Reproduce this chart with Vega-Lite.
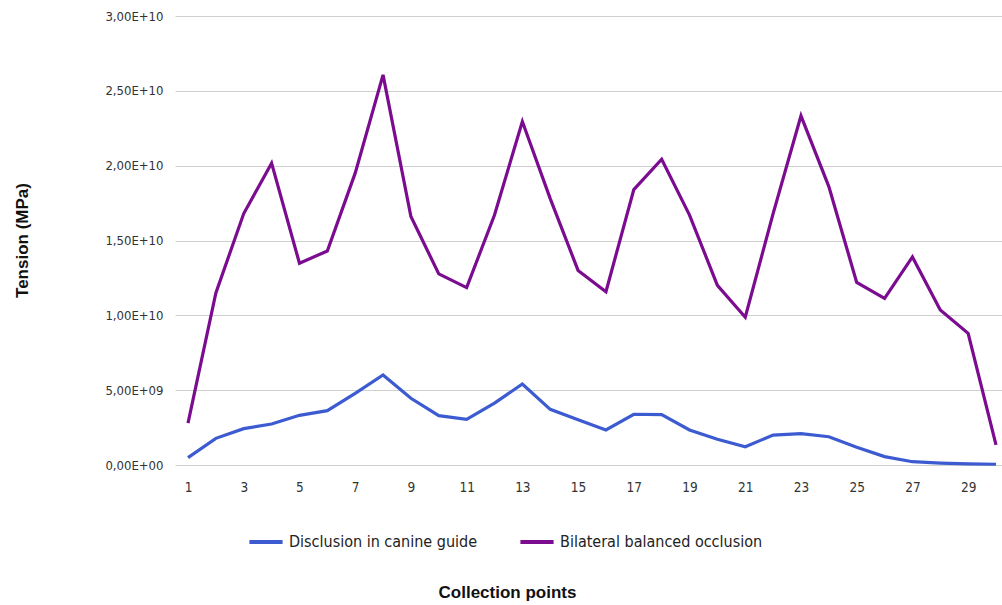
{
  "$schema": "https://vega.github.io/schema/vega-lite/v6.json",
  "autosize": {"type": "none"},
  "padding": {"left": 175, "top": 16, "right": 0, "bottom": 140},
  "width": 827,
  "height": 449,
  "background": "white",
  "config": {
    "view": {"stroke": null},
    "font": "Liberation Sans"
  },
  "datasets": {
    "d": [
      {"point": 1, "series": "Disclusion in canine guide", "value": 490000000},
      {"point": 2, "series": "Disclusion in canine guide", "value": 1780000000},
      {"point": 3, "series": "Disclusion in canine guide", "value": 2430000000},
      {"point": 4, "series": "Disclusion in canine guide", "value": 2740000000},
      {"point": 5, "series": "Disclusion in canine guide", "value": 3320000000},
      {"point": 6, "series": "Disclusion in canine guide", "value": 3630000000},
      {"point": 7, "series": "Disclusion in canine guide", "value": 4790000000},
      {"point": 8, "series": "Disclusion in canine guide", "value": 6020000000},
      {"point": 9, "series": "Disclusion in canine guide", "value": 4460000000},
      {"point": 10, "series": "Disclusion in canine guide", "value": 3300000000},
      {"point": 11, "series": "Disclusion in canine guide", "value": 3050000000},
      {"point": 12, "series": "Disclusion in canine guide", "value": 4140000000},
      {"point": 13, "series": "Disclusion in canine guide", "value": 5410000000},
      {"point": 14, "series": "Disclusion in canine guide", "value": 3720000000},
      {"point": 15, "series": "Disclusion in canine guide", "value": 3030000000},
      {"point": 16, "series": "Disclusion in canine guide", "value": 2340000000},
      {"point": 17, "series": "Disclusion in canine guide", "value": 3390000000},
      {"point": 18, "series": "Disclusion in canine guide", "value": 3360000000},
      {"point": 19, "series": "Disclusion in canine guide", "value": 2340000000},
      {"point": 20, "series": "Disclusion in canine guide", "value": 1720000000},
      {"point": 21, "series": "Disclusion in canine guide", "value": 1220000000},
      {"point": 22, "series": "Disclusion in canine guide", "value": 2000000000},
      {"point": 23, "series": "Disclusion in canine guide", "value": 2090000000},
      {"point": 24, "series": "Disclusion in canine guide", "value": 1890000000},
      {"point": 25, "series": "Disclusion in canine guide", "value": 1180000000},
      {"point": 26, "series": "Disclusion in canine guide", "value": 560000000},
      {"point": 27, "series": "Disclusion in canine guide", "value": 220000000},
      {"point": 28, "series": "Disclusion in canine guide", "value": 130000000},
      {"point": 29, "series": "Disclusion in canine guide", "value": 80000000},
      {"point": 30, "series": "Disclusion in canine guide", "value": 50000000},
      {"point": 1, "series": "Bilateral balanced occlusion", "value": 2800000000},
      {"point": 2, "series": "Bilateral balanced occlusion", "value": 11500000000},
      {"point": 3, "series": "Bilateral balanced occlusion", "value": 16800000000},
      {"point": 4, "series": "Bilateral balanced occlusion", "value": 20170000000},
      {"point": 5, "series": "Bilateral balanced occlusion", "value": 13480000000},
      {"point": 6, "series": "Bilateral balanced occlusion", "value": 14300000000},
      {"point": 7, "series": "Bilateral balanced occlusion", "value": 19500000000},
      {"point": 8, "series": "Bilateral balanced occlusion", "value": 26070000000},
      {"point": 9, "series": "Bilateral balanced occlusion", "value": 16600000000},
      {"point": 10, "series": "Bilateral balanced occlusion", "value": 12770000000},
      {"point": 11, "series": "Bilateral balanced occlusion", "value": 11850000000},
      {"point": 12, "series": "Bilateral balanced occlusion", "value": 16700000000},
      {"point": 13, "series": "Bilateral balanced occlusion", "value": 22950000000},
      {"point": 14, "series": "Bilateral balanced occlusion", "value": 17800000000},
      {"point": 15, "series": "Bilateral balanced occlusion", "value": 13000000000},
      {"point": 16, "series": "Bilateral balanced occlusion", "value": 11580000000},
      {"point": 17, "series": "Bilateral balanced occlusion", "value": 18400000000},
      {"point": 18, "series": "Bilateral balanced occlusion", "value": 20430000000},
      {"point": 19, "series": "Bilateral balanced occlusion", "value": 16700000000},
      {"point": 20, "series": "Bilateral balanced occlusion", "value": 12000000000},
      {"point": 21, "series": "Bilateral balanced occlusion", "value": 9870000000},
      {"point": 22, "series": "Bilateral balanced occlusion", "value": 16800000000},
      {"point": 23, "series": "Bilateral balanced occlusion", "value": 23330000000},
      {"point": 24, "series": "Bilateral balanced occlusion", "value": 18600000000},
      {"point": 25, "series": "Bilateral balanced occlusion", "value": 12200000000},
      {"point": 26, "series": "Bilateral balanced occlusion", "value": 11140000000},
      {"point": 27, "series": "Bilateral balanced occlusion", "value": 13900000000},
      {"point": 28, "series": "Bilateral balanced occlusion", "value": 10360000000},
      {"point": 29, "series": "Bilateral balanced occlusion", "value": 8800000000},
      {"point": 30, "series": "Bilateral balanced occlusion", "value": 1340000000}
    ]
  },
  "data": {"name": "d"},
  "mark": {"type": "line", "strokeWidth": 3.2, "strokeJoin": "miter"},
  "encoding": {
    "x": {
      "field": "point",
      "type": "quantitative",
      "scale": {"domain": [0.533, 30.215], "nice": false, "zero": false},
      "axis": {
        "values": [1, 3, 5, 7, 9, 11, 13, 15, 17, 19, 21, 23, 25, 27, 29],
        "grid": false,
        "domain": false,
        "ticks": false,
        "labelPadding": 15,
        "labelFont": "Liberation Sans Narrow, DejaVu Sans Condensed, sans-serif",
        "labelFontSize": 13.5,
        "labelColor": "#333333",
        "title": "Collection points",
        "titleFont": "Liberation Sans",
        "titleFontSize": 17,
        "titleFontWeight": "bold",
        "titleColor": "#111111",
        "titleX": 332,
        "titleY": 127,
        "titleBaseline": "middle",
        "titleAlign": "center"
      }
    },
    "y": {
      "field": "value",
      "type": "quantitative",
      "scale": {"domain": [0, 30000000000], "nice": false},
      "axis": {
        "values": [0, 5000000000, 10000000000, 15000000000, 20000000000, 25000000000, 30000000000],
        "labelExpr": "datum.value >= 1e10 ? replace(replace(format(datum.value, '.2e'), '.', ','), 'e', 'E') : (datum.value > 0 ? replace(replace(format(datum.value, '.2e'), '.', ','), 'e+', 'E+0') : '0,00E+00')",
        "grid": true,
        "gridColor": "#cfcfcf",
        "gridWidth": 1.2,
        "domain": false,
        "ticks": false,
        "labelPadding": 12,
        "labelFont": "Liberation Sans Narrow, DejaVu Sans Condensed, sans-serif",
        "labelFontSize": 13,
        "labelColor": "#333333",
        "title": "Tension (MPa)",
        "titleFont": "Liberation Sans",
        "titleFontSize": 17,
        "titleFontWeight": "bold",
        "titleColor": "#111111",
        "titleX": -153,
        "titleY": 224,
        "titleAngle": -90,
        "titleBaseline": "middle",
        "titleAlign": "center"
      }
    },
    "color": {
      "field": "series",
      "type": "nominal",
      "scale": {
        "domain": ["Disclusion in canine guide", "Bilateral balanced occlusion"],
        "range": ["#3d5bd1", "#7b0c90"]
      },
      "legend": {
        "title": null,
        "orient": "none",
        "legendX": 72,
        "legendY": 507,
        "direction": "horizontal",
        "symbolType": "stroke",
        "symbolSize": 1100,
        "symbolStrokeWidth": 4,
        "labelFont": "Liberation Sans Narrow, DejaVu Sans Condensed, sans-serif",
        "labelFontSize": 16,
        "labelColor": "#222222",
        "labelOffset": 4,
        "labelLimit": 0,
        "columnPadding": 35
      }
    }
  }
}
